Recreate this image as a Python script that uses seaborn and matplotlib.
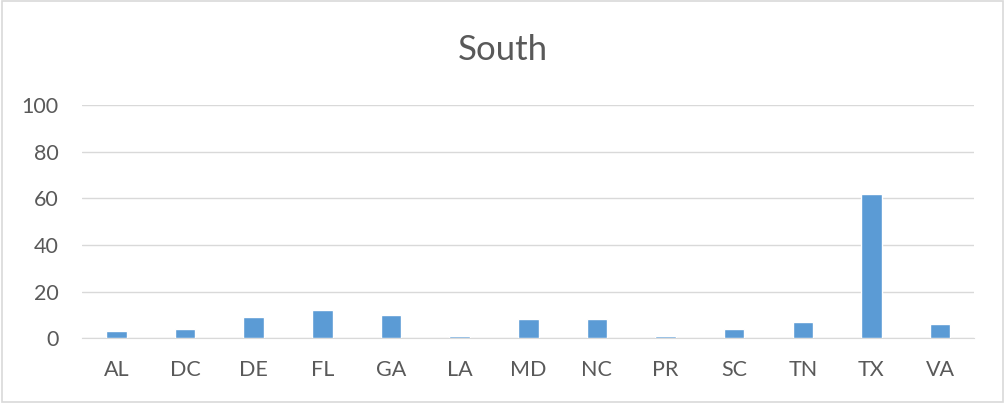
import matplotlib
matplotlib.use("Agg")
import matplotlib.pyplot as plt
import seaborn as sns
import pandas as pd

states = ["AL", "DC", "DE", "FL", "GA", "LA", "MD", "NC", "PR", "SC", "TN", "TX", "VA"]
counts = [3, 4, 9, 12, 10, 1, 8, 8, 1, 4, 7, 62, 6]

df = pd.DataFrame({"state": states, "count": counts})

sns.set_style("white")
plt.rcParams["font.family"] = ["Lato", "DejaVu Sans"]

text_col = "#595959"
fig = plt.figure(figsize=(10.05, 4.03), dpi=100)
ax = fig.add_axes([0.0816, 0.161, 0.888, 0.578])

sns.barplot(data=df, x="state", y="count", color="#5B9BD5", width=0.3,
            saturation=1, ax=ax, zorder=3)

ax.set_ylim(0, 100)
ax.set_xlim(-0.5, len(states) - 0.5)
ax.set_yticks(range(0, 101, 20))
ax.grid(axis="y", color="#D9D9D9", linewidth=1, zorder=0)
ax.set_xlabel("")
ax.set_ylabel("")
for s in ["top", "right", "left"]:
    ax.spines[s].set_visible(False)
ax.spines["bottom"].set_color("#D9D9D9")
ax.tick_params(axis="both", length=0, labelsize=15.5, labelcolor=text_col)
ax.tick_params(axis="y", pad=17)
ax.tick_params(axis="x", pad=16)

fig.suptitle("South", y=0.915, fontsize=25, color=text_col)

fig.patches.append(plt.Rectangle((0.002, 0.003), 0.996, 0.994, transform=fig.transFigure,
                                 fill=False, edgecolor="#D9D9D9", linewidth=1.2))

fig.savefig("out.png", dpi=100)
